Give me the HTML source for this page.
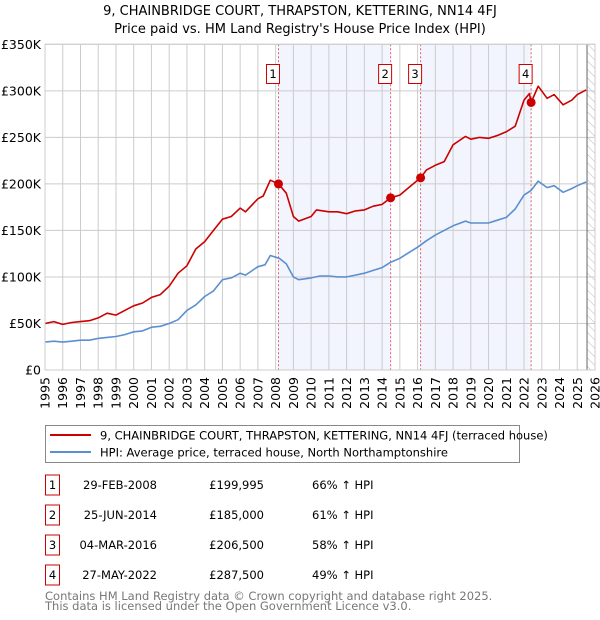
<!DOCTYPE html>
<html><head><meta charset="utf-8">
<style>
body{margin:0;background:#fff;font-family:"Liberation Sans","DejaVu Sans",sans-serif;}
#wrap{position:relative;width:600px;height:620px;overflow:hidden;}
.t{position:absolute;font-size:13px;color:#000;}
</style></head><body>
<div id="wrap">
<svg id="chart" width="600" height="420" style="position:absolute;left:0;top:0">
<text x="300" y="15" text-anchor="middle" font-size="13" font-family="DejaVu Sans,sans-serif">9, CHAINBRIDGE COURT, THRAPSTON, KETTERING, NN14 4FJ</text>
<text x="300" y="33" text-anchor="middle" font-size="13" font-family="DejaVu Sans,sans-serif">Price paid vs. HM Land Registry's House Price Index (HPI)</text>
<defs><pattern id="hatch" width="6" height="6" patternUnits="userSpaceOnUse" patternTransform="rotate(-45)"><line x1="0" y1="0" x2="0" y2="6" stroke="#bbb" stroke-width="1"/></pattern></defs>
<g id="g"></g>
</svg>
<svg width="600" height="200" style="position:absolute;left:0;top:420px">
<rect x="45.5" y="5.5" width="474" height="37" fill="#fff" stroke="#888"/>
<line x1="50" y1="15" x2="91" y2="15" stroke="#cc0000" stroke-width="2"/>
<text x="100" y="19.5" font-size="11.5" font-family="DejaVu Sans,sans-serif">9, CHAINBRIDGE COURT, THRAPSTON, KETTERING, NN14 4FJ (terraced house)</text>
<line x1="50" y1="32" x2="91" y2="32" stroke="#5b8fd0" stroke-width="2"/>
<text x="100" y="36.5" font-size="11.5" font-family="DejaVu Sans,sans-serif">HPI: Average price, terraced house, North Northamptonshire</text>
<g id="tbl" font-size="11.5" font-family="DejaVu Sans,sans-serif"></g>
<text x="45" y="180" font-size="11.5" fill="#777" font-family="DejaVu Sans,sans-serif">Contains HM Land Registry data © Crown copyright and database right 2025.</text>
<text x="45" y="190" font-size="11.5" fill="#777" font-family="DejaVu Sans,sans-serif">This data is licensed under the Open Government Licence v3.0.</text>
</svg>
</div>
<script>
const hpiYears=[1995,1995.5,1996,1996.5,1997,1997.5,1998,1998.5,1999,1999.5,2000,2000.5,2001,2001.5,2002,2002.5,2003,2003.5,2004,2004.5,2005,2005.5,2006,2006.3,2007,2007.4,2007.7,2008.2,2008.6,2009,2009.3,2010,2010.5,2011,2011.5,2012,2012.5,2013,2013.5,2014,2014.5,2015,2015.5,2016,2016.5,2017,2017.5,2018,2018.7,2019,2019.5,2020,2020.5,2021,2021.5,2022,2022.4,2022.8,2023.3,2023.7,2024.2,2024.7,2025,2025.5];
const hpiValues=[30,31,30,31,32,32,34,35,36,38,41,42,46,47,50,54,64,70,79,85,97,99,104,102,111,113,123,120,114,100,97,99,101,101,100,100,102,104,107,110,116,120,126,132,139,145,150,155,160,158,158,158,161,164,173,188,193,203,196,198,191,195,198,202];
const propYears=[1995,1995.5,1996,1996.5,1997,1997.5,1998,1998.5,1999,1999.5,2000,2000.5,2001,2001.5,2002,2002.5,2003,2003.5,2004,2004.5,2005,2005.5,2006,2006.3,2007,2007.3,2007.7,2008.16,2008.6,2009,2009.3,2010,2010.3,2011,2011.5,2012,2012.5,2013,2013.5,2014,2014.48,2015,2015.5,2016.17,2016.5,2017,2017.5,2018,2018.7,2019,2019.5,2020,2020.5,2021,2021.5,2022,2022.3,2022.4,2022.8,2023.3,2023.7,2024.2,2024.7,2025,2025.5];
const propValues=[50,52,49,51,52,53,56,61,59,64,69,72,78,81,90,104,112,130,138,150,162,165,174,170,184,187,204,200,190,165,160,165,172,170,170,168,171,172,176,178,185,188,196,206.5,215,220,224,242,251,248,250,249,252,256,262,290,297,287.5,305,292,296,285,290,296,301];
const saleYears=[2008.16,2014.48,2016.17,2022.4];
const saleValues=[199.995,185,206.5,287.5];
const saleLabels=["1","2","3","4"];
const saleDates=["29-FEB-2008","25-JUN-2014","04-MAR-2016","27-MAY-2022"];
const salePrices=["£199,995","£185,000","£206,500","£287,500"];
const saleDiffs=["66% ↑ HPI","61% ↑ HPI","58% ↑ HPI","49% ↑ HPI"];
const yTicks=[0,50,100,150,200,250,300,350];
const yTickLabels=["£0","£50K","£100K","£150K","£200K","£250K","£300K","£350K"];
const xTicks=[1995,1996,1997,1998,1999,2000,2001,2002,2003,2004,2005,2006,2007,2008,2009,2010,2011,2012,2013,2014,2015,2016,2017,2018,2019,2020,2021,2022,2023,2024,2025,2026];

const X0=45,X1=595,Y0=370,Y1=44.3;
const xs=y=>X0+(y-1995)/(2026-1995)*(X1-X0);
const ys=v=>Y0-v/350*(Y0-Y1);
const NS="http://www.w3.org/2000/svg";
const g=document.getElementById('g');
function mk(t,a,p){const e=document.createElementNS(NS,t);for(const k in a)e.setAttribute(k,a[k]);(p||g).appendChild(e);return e;}

// shaded bands
for(let i=0;i<saleYears.length;i+=2){
 const end=i+1<saleYears.length?saleYears[i+1]:2025.5;
 const r=mk('rect',{x:xs(saleYears[i]),y:Y1,width:xs(end)-xs(saleYears[i]),height:Y0-Y1,fill:'#eef2fc',opacity:0.75});
 
 
}
const hatchStart=2025.55;
const h=mk('rect',{x:xs(hatchStart),y:Y1,width:X1-xs(hatchStart),height:Y0-Y1,fill:'url(#hatch)'});


// grid
xTicks.forEach(t=>{
 const l=mk('line',{x1:xs(t),x2:xs(t),y1:Y1,y2:Y0,stroke:'#ccc','stroke-width':1});
 
 
 const tx=mk('text',{x:0,y:0,transform:`translate(${xs(t)+4.5},${Y0+7}) rotate(-90)`,'text-anchor':'end','font-size':12.5,'font-family':'DejaVu Sans,sans-serif'});
 tx.textContent=t;
 
 
});
yTicks.forEach((t,i)=>{
 const l=mk('line',{x1:X0,x2:X1,y1:ys(t),y2:ys(t),stroke:'#ccc','stroke-width':1});
 
 
 const tx=mk('text',{x:X0-4,y:ys(t)+4.5,'text-anchor':'end','font-size':12.5,'font-family':'DejaVu Sans,sans-serif'});
 tx.textContent=yTickLabels[i];
 
 
});
const ln=mk('line',{x1:xs(hatchStart),x2:xs(hatchStart),y1:Y1,y2:Y0,stroke:'#666','stroke-width':1});


// sale lines
saleYears.forEach((s,i)=>{
 const l=mk('line',{x1:xs(s),x2:xs(s),y1:Y1,y2:Y0,stroke:'#e06060','stroke-width':1,'stroke-dasharray':'2,2'});
 
 
});
function path(xa,va,col,name){
 const d=xa.map((x,i)=>(i?'L':'M')+xs(x).toFixed(1)+','+ys(va[i]).toFixed(1)).join('');
 const p=mk('path',{d:d,fill:'none',stroke:col,'stroke-width':1.6,'stroke-linejoin':'round'});
 
 
}
path(hpiYears,hpiValues,'#5b8fd0','hpi-line');
path(propYears,propValues,'#cc0000','property-price-line');
saleYears.forEach((s,i)=>{
 const c=mk('circle',{cx:xs(s),cy:ys(saleValues[i]),r:4.5,fill:'#cc0000'});
 
 
 const b=mk('rect',{x:xs(s)-12,y:64.5,width:13,height:19,fill:'#fff',stroke:'#cc0000'});
 
 
 const t=mk('text',{x:xs(s)-5.5,y:78,'text-anchor':'middle','font-size':11.5,'font-family':'DejaVu Sans,sans-serif'});
 t.textContent=saleLabels[i];
 
 
});
const fr=mk('rect',{x:X0,y:Y1,width:X1-X0,height:Y0-Y1,fill:'none',stroke:'#ccc'});


// table
const tb=document.getElementById('tbl');
saleLabels.forEach((lab,i)=>{
 const y=63+i*30;
 const r=mk('rect',{x:45.5,y:y-8,width:14,height:20,fill:'#fff',stroke:'#cc0000'},tb);
 
 
 const cols=[[52.5,lab,'middle'],[157,saleDates[i],'end'],[264,salePrices[i],'end'],[312,saleDiffs[i],'start']];
 cols.forEach(c=>{
  const t=mk('text',{x:c[0],y:y+6,'text-anchor':c[2]},tb);
  t.textContent=c[1];
  
  
 });
});
</script>
</body></html>
